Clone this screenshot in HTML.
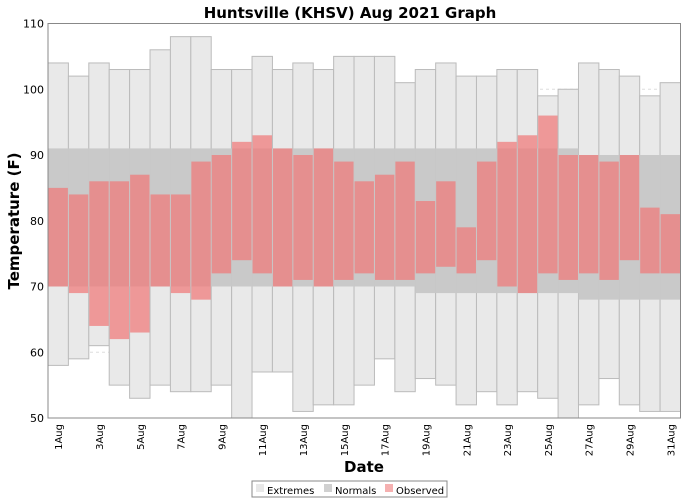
<!DOCTYPE html>
<html><head><meta charset="utf-8"><style>
body{margin:0;background:#fff;width:700px;height:500px;overflow:hidden;font-family:"DejaVu Sans","Liberation Sans",sans-serif}
</style></head><body>
<svg id="chart" width="700" height="500" xmlns="http://www.w3.org/2000/svg" font-family="DejaVu Sans, Liberation Sans, sans-serif">
<text x="350" y="18" text-anchor="middle" font-size="15" font-weight="bold">Huntsville (KHSV) Aug 2021 Graph</text>
<text transform="translate(19,221) rotate(-90)" text-anchor="middle" font-size="15" font-weight="bold">Temperature (F)</text>
<text x="364" y="472" text-anchor="middle" font-size="15" font-weight="bold">Date</text>
<g id="grid"></g><g id="ext"></g><g id="norm"></g><g id="obs"></g><g id="axes"></g>
<g>
<rect x="252" y="481" width="195" height="16" fill="#fff" stroke="#888"/>
<rect x="256" y="484" width="8" height="8" fill="#e8e8e8"/>
<text x="267" y="494" font-size="10">Extremes</text>
<rect x="324" y="484" width="8" height="8" fill="#d0d0d0"/>
<text x="335" y="494" font-size="10">Normals</text>
<rect x="385" y="484" width="8" height="8" fill="#f5b0b0"/>
<text x="396" y="494" font-size="10">Observed</text>
</g>
</svg>
<script>
const days=[1,2,3,4,5,6,7,8,9,10,11,12,13,14,15,16,17,18,19,20,21,22,23,24,25,26,27,28,29,30,31];
const extHigh=[104,102,104,103,103,106,108,108,103,103,105,103,104,103,105,105,105,101,103,104,102,102,103,103,99,100,104,103,102,99,101];
const extLow=[58,59,61,55,53,55,54,54,55,50,57,57,51,52,52,55,59,54,56,55,52,54,52,54,53,50,52,56,52,51,51];
const normHigh=[91,91,91,91,91,91,91,91,91,91,91,91,91,91,91,91,91,91,91,91,91,91,91,91,91,91,90,90,90,90,90];
const normLow=[70,70,70,70,70,70,70,70,70,70,70,70,70,70,70,70,70,70,69,69,69,69,69,69,69,69,68,68,68,68,68];
const obsHigh=[85,84,86,86,87,84,84,89,90,92,93,91,90,91,89,86,87,89,83,86,79,89,92,93,96,90,90,89,90,82,81];
const obsLow=[70,69,64,62,63,70,69,68,72,74,72,70,71,70,71,72,71,71,72,73,72,74,70,69,72,71,72,71,74,72,72];
const yTicks=[50,60,70,80,90,100,110];
const L=48,R=680.5,T=23.5,B=418,yMin=50,yMax=110;
const bw=(R-L)/days.length;
const x=i=>L+i*bw;
const y=v=>B-(v-yMin)/(yMax-yMin)*(B-T);
const NS="http://www.w3.org/2000/svg";
function mk(p,tag,a){const e=document.createElementNS(NS,tag);for(const k in a)e.setAttribute(k,a[k]);document.getElementById(p).appendChild(e);return e;}
yTicks.forEach(t=>{
 if(t>yMin&&t<yMax){const g=mk('grid','line',{x1:L,x2:R,y1:y(t),y2:y(t),stroke:'#ddd','stroke-dasharray':'3,3'});
 
 }
 const tx=mk('axes','text',{x:L-4,y:y(t)+4,'text-anchor':'end','font-size':'11'});
 tx.textContent=t;
 
 
});
days.forEach((d,i)=>{
 const e=mk('ext','rect',{x:x(i),y:y(extHigh[i]),width:bw,height:y(extLow[i])-y(extHigh[i]),fill:'#e9e9e9',stroke:'#bbb','stroke-width':1});
 
 
 const n=mk('norm','rect',{x:x(i),y:y(normHigh[i]),width:bw,height:y(normLow[i])-y(normHigh[i]),fill:'#c9c9c9'});
 
 
 const o=mk('obs','rect',{x:x(i)+0.5,y:y(obsHigh[i]),width:bw-1,height:y(obsLow[i])-y(obsHigh[i]),fill:'rgb(240,120,120)','fill-opacity':0.72});
 
 
 if(i%2===0){const cx=x(i)+bw/2+4;
  const t=mk('axes','text',{transform:`translate(${cx},424) rotate(-90)`,'text-anchor':'end','font-size':'10'});
  t.textContent=d+'Aug';
  
  }
});
const f=mk('axes','rect',{x:L,y:T,width:R-L,height:B-T,fill:'none',stroke:'#888'});


</script>
</body></html>
